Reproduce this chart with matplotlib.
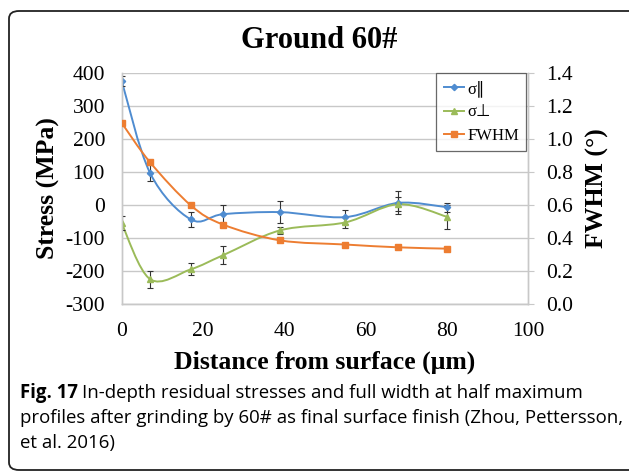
import numpy as np
import matplotlib
matplotlib.use("Agg")
import matplotlib.pyplot as plt
from matplotlib.path import Path
from matplotlib.patches import PathPatch, FancyBboxPatch
from matplotlib.lines import Line2D

plt.rcParams["axes.unicode_minus"] = False

# data
depth = [0, 7, 17, 25, 39, 55, 68, 80]
s_par = [375, 96, -44, -28, -22, -37, 6, -7]
s_par_err = [15, 25, 23, 27, 33, 22, 35, 14]
s_perp = [-56, -225, -195, -152, -77, -53, 2, -36]
s_perp_err = [21, 26, 18, 28, 10, 16, 22, 37]
fwhm = [1.096, 0.857, 0.597, 0.48, 0.385, 0.36, 0.343, 0.335]

stress_ticks = [-300, -200, -100, 0, 100, 200, 300, 400]
fwhm_ticks = [0.0, 0.2, 0.4, 0.6, 0.8, 1.0, 1.2, 1.4]
x_ticks = [0, 20, 40, 60, 80, 100]

blue = "#4F8CD0"
green = "#9BBB59"
orange = "#ED7D31"
grid_c = "#C8C8C8"
serif = ["Liberation Serif", "DejaVu Serif"]


def smooth_path(xs, ys):
    # Excel-like smoothed line: Catmull-Rom as cubic Bezier segments
    pts = np.column_stack([xs, ys]).astype(float)
    n = len(pts)
    verts = [pts[0]]
    codes = [Path.MOVETO]
    for i in range(n - 1):
        p0 = pts[i - 1] if i > 0 else pts[i]
        p1 = pts[i]
        p2 = pts[i + 1]
        p3 = pts[i + 2] if i + 2 < n else pts[i + 1]
        c1 = p1 + (p2 - p0) / 6.0
        c2 = p2 - (p3 - p1) / 6.0
        verts += [c1, c2, p2]
        codes += [Path.CURVE4] * 3
    return Path(verts, codes)


fig = plt.figure(figsize=(6.29, 4.72), dpi=100)

# rounded frame round the figure
frame = FancyBboxPatch((9 / 629, 2 / 472), 640 / 629, 459 / 472,
                       boxstyle="round,pad=0,rounding_size=0.016",
                       transform=fig.transFigure, fill=False,
                       edgecolor="#222222", linewidth=1.3, clip_on=False)
fig.patches.append(frame)

ax = fig.add_axes([121.7 / 629, (472 - 304) / 472, (528.3 - 121.7) / 629, (304 - 72.7) / 472])
ax2 = ax.twinx()

ax.set_xlim(0, 100)
ax.set_ylim(-300, 400)
ax2.set_ylim(0, 1.4)
ax.set_xticks(x_ticks)
ax.set_yticks(stress_ticks)
ax2.set_yticks(fwhm_ticks)
ax2.set_yticklabels([f"{v:.1f}" for v in fwhm_ticks])

ax.grid(axis="y", color=grid_c, linewidth=1.0)
ax.set_axisbelow(True)
for a in (ax, ax2):
    for side in ("left", "right", "bottom"):
        a.spines[side].set_color(grid_c)
        a.spines[side].set_linewidth(1.0)
    a.spines["top"].set_visible(False)

ax.tick_params(axis="x", length=0, pad=13, labelsize=15.5)
ax.tick_params(axis="y", length=0, pad=12, labelsize=15.5)
ax2.tick_params(axis="y", length=4, color=grid_c, pad=9, labelsize=15.5)
for lab in ax.get_xticklabels() + ax.get_yticklabels() + ax2.get_yticklabels():
    lab.set_fontfamily(serif)

# smoothed lines
ax.add_patch(PathPatch(smooth_path(depth, s_par), fill=False, edgecolor=blue, linewidth=1.4, zorder=3))
ax.add_patch(PathPatch(smooth_path(depth, s_perp), fill=False, edgecolor=green, linewidth=1.4, zorder=3))
ax2.add_patch(PathPatch(smooth_path(depth, fwhm), fill=False, edgecolor=orange, linewidth=1.4, zorder=3))

# markers and error bars
ax.errorbar(depth, s_par, yerr=s_par_err, fmt="none", ecolor="#333333", elinewidth=0.8, capsize=2, capthick=0.8, zorder=4)
ax.errorbar(depth, s_perp, yerr=s_perp_err, fmt="none", ecolor="#333333", elinewidth=0.8, capsize=2, capthick=0.8, zorder=4)
ax.plot(depth, s_par, linestyle="none", marker="D", markersize=3.2, color=blue, zorder=5)
ax.plot(depth, s_perp, linestyle="none", marker="^", markersize=4.5, color=green, zorder=5)
ax2.plot(depth, fwhm, linestyle="none", marker="s", markersize=5, color=orange, zorder=5)

ax.set_xlabel("Distance from surface (μm)", fontfamily=serif, fontweight="bold", fontsize=18.5, labelpad=7)
ax.set_ylabel("Stress (MPa)", fontfamily=serif, fontweight="bold", fontsize=18.5, labelpad=4)
ax2.set_ylabel("FWHM (°)", fontfamily=serif, fontweight="bold", fontsize=18.5, labelpad=9)

fig.text(319 / 629, 1 - 40 / 472, "Ground 60#", ha="center", va="center",
         fontfamily=serif, fontweight="bold", fontsize=22)

handles = [
    Line2D([], [], color=blue, marker="D", markersize=3.2, linewidth=1.4),
    Line2D([], [], color=green, marker="^", markersize=4.5, linewidth=1.4),
    Line2D([], [], color=orange, marker="s", markersize=5, linewidth=1.4),
]
leg = ax2.legend(handles, ["σ∥", "σ⊥", "FWHM"], loc="upper right",
                 bbox_to_anchor=(0.995, 1.0), borderaxespad=0.0, frameon=True, fancybox=False,
                 handlelength=1.2, handletextpad=0.2, labelspacing=0.45,
                 borderpad=0.45, prop={"family": ["Liberation Serif", "DejaVu Sans"], "size": 12})
leg.get_frame().set_edgecolor("#444444")
leg.get_frame().set_linewidth(0.9)

# caption
cap_font = dict(fontfamily="Open Sans", fontsize=13.4, va="baseline")
fig.canvas.draw()
t1 = fig.text(20 / 629, 1 - 398 / 472, "Fig. 17", fontweight="bold", **cap_font)
fig.canvas.draw()
bb = t1.get_window_extent()
fig.text((bb.x1 + 4) / 629, 1 - 398 / 472, "In-depth residual stresses and full width at half maximum", **cap_font)
fig.text(20 / 629, 1 - 423 / 472, "profiles after grinding by 60# as final surface finish (Zhou, Pettersson,", **cap_font)
fig.text(20 / 629, 1 - 448 / 472, "et al. 2016)", **cap_font)

fig.savefig("out.png", dpi=100)
